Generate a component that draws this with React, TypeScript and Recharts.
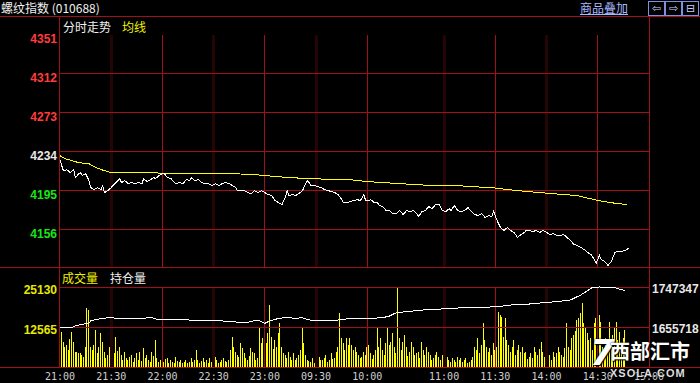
import React from 'react';
import { ComposedChart, Line, Bar, XAxis, YAxis, ReferenceLine } from 'recharts';

// ---- data ----
const preClose = 4234;
const priceTicks = [4351, 4312, 4273, 4234, 4195, 4156];
const pctTicks = [2.76, 1.84, 0.92, 0, -0.92, -1.84];
const volTicks = [25130, 12565];
const oiTicks = [1747347, 1655718];
const timeLabels = ['21:00', '21:30', '22:00', '22:30', '23:00', '09:30', '10:00', '11:00', '11:30', '14:00', '14:30', '15:00'];
const majorTimes = ['22:00', '23:00', '10:00', '11:30', '14:30'];
const minorTimes = ['21:30', '22:30', '09:30', '11:00', '14:00'];
const sessions = [['21:00', '23:00'], ['09:00', '10:15'], ['10:30', '11:30'], ['13:30', '15:00']];

// price samples: trading minute since 21:00 open, price
const priceMin = [0, 1, 2, 4, 6, 8, 9, 11, 12, 13, 15, 17, 18, 20, 22, 24, 25, 26, 28, 30, 32, 34, 35, 36, 38, 40, 42, 44, 46, 48, 49, 51, 53, 55, 56, 58, 60, 61, 63, 65, 67, 68, 70, 72, 74, 76, 77, 79, 81, 83, 85, 87, 89, 91, 93, 95, 97, 99, 101, 103, 104, 106, 108, 110, 112, 114, 116, 118, 120, 122, 124, 126, 128, 130, 132, 133, 134, 136, 138, 140, 142, 144, 145, 146, 147, 149, 151, 153, 155, 157, 159, 161, 163, 165, 166, 168, 170, 172, 174, 176, 178, 179, 181, 182, 184, 186, 187, 189, 191, 193, 195, 197, 199, 201, 203, 205, 207, 209, 210, 212, 214, 216, 218, 220, 222, 224, 226, 228, 229, 231, 233, 235, 237, 239, 241, 243, 245, 247, 249, 251, 253, 254, 256, 258, 260, 262, 264, 266, 268, 270, 272, 273, 275, 277, 279, 281, 283, 285, 287, 289, 291, 293, 295, 297, 299, 301, 303, 305, 307, 309, 311, 313, 314, 316, 317, 319, 321, 323, 325, 327, 329, 331, 333];
const priceVal = [4226, 4220, 4215, 4216, 4213, 4216, 4208, 4212, 4213, 4210, 4212, 4205, 4198, 4196, 4198, 4196, 4200, 4193, 4195, 4198, 4202, 4205, 4207, 4203, 4205, 4202, 4203, 4202, 4203, 4202, 4207, 4204, 4206, 4208, 4207, 4210, 4212, 4212, 4208, 4207, 4203, 4202, 4203, 4202, 4206, 4205, 4208, 4205, 4206, 4203, 4202, 4202, 4200, 4202, 4200, 4202, 4203, 4202, 4200, 4198, 4195, 4195, 4195, 4193, 4192, 4195, 4193, 4195, 4193, 4191, 4190, 4185, 4183, 4181, 4188, 4195, 4190, 4191, 4190, 4192, 4195, 4202, 4205, 4203, 4200, 4200, 4199, 4198, 4196, 4195, 4194, 4193, 4191, 4186, 4183, 4183, 4184, 4185, 4186, 4185, 4191, 4185, 4185, 4186, 4183, 4183, 4180, 4179, 4175, 4175, 4172, 4172, 4175, 4171, 4175, 4174, 4175, 4172, 4169, 4174, 4175, 4179, 4177, 4181, 4181, 4175, 4174, 4177, 4175, 4180, 4175, 4174, 4175, 4178, 4174, 4171, 4170, 4172, 4168, 4170, 4169, 4174, 4165, 4158, 4155, 4158, 4155, 4153, 4148, 4151, 4153, 4155, 4155, 4154, 4155, 4153, 4155, 4153, 4151, 4152, 4150, 4150, 4151, 4148, 4145, 4141, 4140, 4138, 4136, 4133, 4131, 4126, 4122, 4130, 4126, 4124, 4120, 4124, 4133, 4134, 4134, 4135, 4137];

// average price line
const avgMin = [0, 3, 11, 17, 21, 26, 30, 60, 101, 114, 134, 153, 172, 180, 199, 219, 234, 254, 268, 281, 303, 314, 322, 332];
const avgVal = [4230, 4227, 4223, 4222, 4218, 4215, 4213, 4212.6, 4212, 4211, 4208, 4206.6, 4205.6, 4204, 4202, 4200, 4199.8, 4197.7, 4195, 4193, 4190, 4185.5, 4183, 4181];

// per-minute volume, night session then day session
const volNight = [
  25130, 10990, 7850, 6280, 6910, 5340, 8790,
  10990, 7850, 4710, 4710, 4400, 4400, 3770,
  3140, 6280, 18530, 17900, 6280, 5340, 6910,
  11620, 4400, 6280, 10680, 7850, 4710, 2830,
  3770, 6280, 5340, 3140, 4400, 9420, 5020,
  6280, 3770, 2200, 4710, 2830, 2200, 3140,
  3770, 1570, 2830, 4400, 2200, 4710, 1880,
  5970, 2830, 3770, 2200, 1570, 4710, 3450,
  8480, 2830, 1570, 2200, 1260, 1570, 2510,
  2830, 1260, 2200, 1570, 1260, 3140, 1880,
  1570, 2200, 1260, 1570, 2200, 1260, 1570,
  2830, 1570, 2200, 5340, 2200, 1260, 1880,
  2830, 1570, 2200, 1260, 2830, 1570, 1260,
  3140, 2200, 1260, 1570, 2200, 2830, 1880,
  1570, 2200, 5340, 9420, 6280, 4710, 3770,
  3140, 7540, 5970, 4400, 2830, 2200, 3450,
  5970, 4710, 4400, 2200, 2830, 12250, 7540,
  9110, 4710, 7540, 10680, 19470, 9420, 5650,
  8480, 6280, 10680, 13820, 6280, 4400, 3770,
  2830, 4710, 3140, 2200, 4400, 2200, 2830,
  3770, 5340, 12560, 7540, 3770, 2200, 1880,
  1570, 2830, 1260, 2200, 1570, 3140, 2200,
  2200, 2830, 3770, 1570, 2200, 4400, 2510,
  2830, 4710, 6280, 16960, 9110, 7540, 5340,
  9110, 6910,
];
const volDay = [
  9110, 6910, 5340, 6280, 4710, 3770, 2830,
  3140, 4710, 3770, 6280, 6910, 4400, 2510,
  3770, 5340, 12560, 6280, 9110, 5340, 3770,
  7540, 12250, 6910, 7850, 10680, 6280, 4400,
  24810, 9110, 5340, 7850, 10050, 6280, 3450,
  4710, 7850, 6280, 3770, 4400, 4710, 2830,
  7850, 5340, 3770, 6280, 4710, 3770, 2200,
  2830, 3770, 4710, 3140, 2200, 3770, 1880,
  2830, 3140, 2200, 1570, 2830, 2200, 1570,
  3140, 2200, 2830, 1570, 2200, 2830, 1260,
  1570, 2200, 3140, 6280, 5340, 9110, 4400,
  6910, 13820, 8480, 6280, 4710, 5970, 3770,
  7540, 5340, 6280, 17270, 16330, 15700, 9420,
  15390, 8480, 6910, 4710, 6280, 8480, 3770,
  5340, 6910, 4710, 6280, 4400, 4710, 2510,
  3140, 4400, 2830, 6280, 4710, 3770, 5650,
  7850, 4710, 3140, 3770, 2830, 3770, 2200,
  4710, 3140, 4400, 6280, 4710, 3770, 3140,
  5970, 13820, 6280, 5340, 9110, 10050, 11300,
  14760, 15390, 16960, 20100, 13820, 12250, 10680,
  8480, 9110, 5340, 13820, 15390, 18840, 16330,
  14130, 6280, 4710, 9110, 8480, 14130, 7540,
  10050, 12250, 14130, 8480, 10990, 6280,
  9110, 11620,
];

// open interest samples
const oiMin = [0, 7, 9, 13, 17, 18, 22, 28, 36, 46, 54, 58, 65, 75, 85, 95, 102, 106, 110, 114, 117, 120, 122, 126, 132, 138, 142, 146, 153, 161, 165, 173, 182, 189, 193, 197, 203, 213, 221, 229, 238, 248, 256, 264, 275, 283, 291, 299, 305, 309, 312, 316, 320, 324, 328, 331];
const oiVal = [1654100, 1654100, 1658000, 1661900, 1664200, 1670100, 1673400, 1677000, 1675600, 1675600, 1677000, 1671800, 1671800, 1671800, 1670100, 1669500, 1667900, 1665600, 1666500, 1670100, 1669500, 1664200, 1667900, 1673400, 1677900, 1675600, 1677000, 1671800, 1670100, 1670100, 1673400, 1675600, 1675600, 1677000, 1680900, 1688500, 1690800, 1694700, 1696300, 1698600, 1699900, 1700800, 1702200, 1706100, 1708400, 1711400, 1713700, 1717600, 1729000, 1738900, 1746700, 1747347, 1746700, 1747300, 1742100, 1738900];

// ---- helpers ----
const hm = (t: string) => {
  const [h, m] = t.split(':').map(Number);
  return h * 60 + m;
};
const toIdx = (t: string) => {
  const v = hm(t);
  let acc = 0;
  for (const [s, e] of sessions) {
    if (v >= hm(s) && v <= hm(e)) return acc + v - hm(s);
    acc += hm(e) - hm(s);
  }
  return acc;
};
const totalMin = toIdx('15:00');

const priceData = priceMin.map((m, i) => ({ m, p: priceVal[i] }));
const avgData = avgMin.map((m, i) => ({ m, p: avgVal[i] }));
const volData = volNight.concat(volDay).map((v, i) => ({ m: i, v }));
const oiData = oiMin.map((m, i) => ({ m, oi: oiVal[i] }));

const RED = '#a01018';
const DIM = '#240405';
const W = 700;
const H = 383;

const upDown = (d: number) => (d > 0 ? '#ff3c3c' : d < 0 ? '#19e619' : '#e8e8e8');

const PriceTick = ({ x, y, payload }: any) => (
  <text x={x} y={y + 8} textAnchor="end" fill={upDown(payload.value - preClose)}
    fontSize={12} fontWeight="bold" fontFamily="Liberation Sans, Arial">{payload.value}</text>
);
const PctTick = ({ x, y, payload }: any) => {
  const v = payload.value;
  const s = (v >= 0 ? '+' : '') + v.toFixed(2) + '%';
  return (
    <text x={x} y={y + 8} textAnchor="start" fill={upDown(v)} fontSize={11} fontWeight="bold"
      fontFamily="Liberation Sans, Arial">{s}</text>
  );
};
const VolTick = ({ x, y, payload }: any) => (
  <text x={x} y={y + 7} textAnchor="end" fill="#e8e800" fontSize={12} fontWeight="bold"
    fontFamily="Liberation Sans, Arial">{payload.value}</text>
);
const OiTick = ({ x, y, payload }: any) => (
  <text x={x} y={y + 6} textAnchor="start" fill="#e8e8e8" fontSize={12} fontWeight="bold"
    fontFamily="Liberation Sans, Arial">{payload.value}</text>
);
const TimeTick = ({ x, y, payload }: any) => (
  <text x={x} y={y + 13} textAnchor="middle" fill="#d0d0d0" fontSize={10}
    fontFamily="DejaVu Sans Mono, monospace">{timeLabels[timeLabels.map(toIdx).indexOf(payload.value)] ?? ''}</text>
);

const abs = (s: React.CSSProperties): React.CSSProperties => ({ position: 'absolute', ...s });
const cjk = '"Noto Sans CJK SC", "Noto Sans", sans-serif';

const gridLines = (yId: string) => [
  ...minorTimes.map((t) => (
    <ReferenceLine key={'n' + t} x={toIdx(t)} yAxisId={yId} stroke={DIM} strokeWidth={3} />
  )),
  ...majorTimes.map((t) => (
    <ReferenceLine key={'j' + t} x={toIdx(t)} yAxisId={yId} stroke={RED} strokeWidth={1} />
  )),
];

export default function App() {
  return (
    <div style={abs({ left: 0, top: 0, width: W, height: H, background: '#000', overflow: 'hidden', shapeRendering: 'crispEdges' } as any)}>
      {/* header */}
      <div style={abs({ left: 1, top: 0, color: '#f0f0f0', fontSize: 12, fontFamily: cjk, lineHeight: '16px' })}>螺纹指数 (010688)</div>
      <div style={abs({ left: 580, top: 0, color: '#a8b8ff', fontSize: 12, fontFamily: cjk, lineHeight: '15px', textDecoration: 'underline' })}>商品叠加</div>
      {['⇦', '⇨', '⊟'].map((c, i) => (
        <div key={c} style={abs({ left: 648 + i * 17, top: 1, width: 15, height: 13, border: '1px solid #8090e0', color: '#c8d0ff', fontSize: 11, lineHeight: '13px', textAlign: 'center', fontFamily: 'DejaVu Sans' })}>{c}</div>
      ))}
      <div style={abs({ left: 63, top: 18, color: '#f0f0f0', fontSize: 12, fontFamily: cjk, lineHeight: '18px' })}>分时走势</div>
      <div style={abs({ left: 122, top: 18, color: '#f0f000', fontSize: 12, fontFamily: cjk, lineHeight: '18px' })}>均线</div>
      <div style={abs({ left: 62, top: 269, color: '#f0f000', fontSize: 12, fontFamily: cjk, lineHeight: '17px' })}>成交量</div>
      <div style={abs({ left: 110, top: 269, color: '#f0f0f0', fontSize: 12, fontFamily: cjk, lineHeight: '17px' })}>持仓量</div>

      {/* price panel */}
      <div style={abs({ left: 0, top: 0 })}>
        <ComposedChart width={W} height={H} margin={{ top: 35, right: 0, bottom: H - 268.4, left: 0 }}>
          <XAxis dataKey="m" type="number" domain={[0, totalMin]} hide allowDuplicatedCategory={false} />
          <YAxis yAxisId="p" width={60} domain={[4117, 4351]} ticks={priceTicks} axisLine={false} tickLine={false}
            tickSize={0} tickMargin={3} tick={<PriceTick />} interval={0} />
          <YAxis yAxisId="pct" orientation="right" width={51} domain={[-2.76, 2.76]} ticks={pctTicks} axisLine={false}
            tickLine={false} tickSize={0} tickMargin={3} tick={<PctTick />} interval={0} />
          {gridLines('p')}
          {[4312, 4273, 4234, 4195, 4156].map((v) => (
            <ReferenceLine key={v} y={v} yAxisId="p" stroke={RED} strokeWidth={1} />
          ))}
          <Line data={avgData} dataKey="p" yAxisId="p" type="linear" stroke="#ffff00" strokeWidth={1} dot={false} isAnimationActive={false} />
          <Line data={priceData} dataKey="p" yAxisId="p" type="linear" stroke="#ffffff" strokeWidth={1} dot={false} isAnimationActive={false} />
        </ComposedChart>
      </div>

      {/* volume / open interest panel */}
      <div style={abs({ left: 0, top: 0 })}>
        <ComposedChart width={W} height={H} data={volData} margin={{ top: 287, right: 0, bottom: 0, left: 0 }}>
          <XAxis dataKey="m" type="number" domain={[0, totalMin]} ticks={timeLabels.map(toIdx)} interval={0}
            height={16} axisLine={false} tickLine={false} tickSize={0} tickMargin={0} tick={<TimeTick />} />
          <YAxis yAxisId="v" width={60} domain={[0, 25130]} ticks={volTicks} axisLine={false} tickLine={false}
            tickSize={0} tickMargin={3} tick={<VolTick />} interval={0} />
          <YAxis yAxisId="oi" orientation="right" width={51} domain={[1564089, 1747347]} ticks={oiTicks}
            axisLine={false} tickLine={false} tickSize={0} tickMargin={3} tick={<OiTick />} interval={0} />
          {gridLines('v')}
          {volTicks.map((v) => (
            <ReferenceLine key={v} y={v} yAxisId="v" stroke={RED} strokeWidth={1} />
          ))}
          <Bar dataKey="v" yAxisId="v" fill="#ffff00" barSize={1} isAnimationActive={false} />
          <Line data={oiData} dataKey="oi" yAxisId="oi" type="linear" stroke="#ffffff" strokeWidth={1} dot={false} isAnimationActive={false} />
        </ComposedChart>
      </div>

      {/* frame */}
      <div style={abs({ left: 0, top: 16, width: W, height: 1, background: RED })} />
      <div style={abs({ left: 0, top: 267, width: W, height: 1, background: RED })} />
      <div style={abs({ left: 0, top: 367, width: W, height: 1, background: RED })} />
      <div style={abs({ left: 59, top: 16, width: 1, height: 352, background: RED })} />
      <div style={abs({ left: 649, top: 16, width: 1, height: 352, background: RED })} />

      {/* watermark */}
      <div style={abs({ left: 590, top: 332, color: '#fff', fontSize: 36, fontWeight: 'bold', fontStyle: 'italic', fontFamily: 'DejaVu Sans', lineHeight: '42px', textShadow: '0 0 2px #000, 1px 1px 1px #000' })}>7</div>
      <div style={abs({ left: 610, top: 339, color: '#fff', fontSize: 20, fontWeight: 'bold', fontFamily: cjk, lineHeight: '24px', textShadow: '0 0 2px #000, 1px 1px 1px #000' })}>西部汇市</div>
      <div style={abs({ left: 610, top: 366, color: '#ddd', fontSize: 11, fontWeight: 'bold', fontFamily: 'Liberation Sans', lineHeight: '14px', letterSpacing: 1, textShadow: '0 0 2px #000' })}>XSOLA.COM</div>
    </div>
  );
}
